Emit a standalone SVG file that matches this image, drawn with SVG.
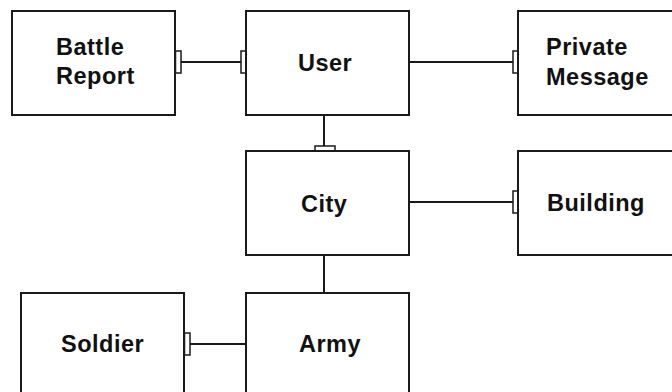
<svg xmlns="http://www.w3.org/2000/svg" width="672" height="392" viewBox="0 0 672 392">
<style>
.box{fill:#fff;stroke:#1a1a1a;stroke-width:2}
.lbl{font-family:"Liberation Sans",Arial,sans-serif;font-weight:bold;font-size:23.5px;letter-spacing:0.5px;fill:#111}
.ln{stroke:#1a1a1a;stroke-width:2;fill:none}
.tk{fill:#fff;stroke:#1a1a1a;stroke-width:1.5}
</style>
<rect width="672" height="392" fill="#fff"/>
<g id="connectors">
<line class="ln" x1="175" y1="62" x2="246" y2="62"/>
<rect class="tk" x="175.5" y="51" width="5.5" height="22"/>
<rect class="tk" x="241" y="51" width="5" height="22"/>
<line class="ln" x1="409" y1="62" x2="518" y2="62"/>
<rect class="tk" x="513" y="51" width="5" height="22"/>
<line class="ln" x1="324" y1="115" x2="324" y2="151"/>
<rect class="tk" x="315" y="146" width="20" height="5"/>
<line class="ln" x1="409" y1="202" x2="518" y2="202"/>
<rect class="tk" x="513" y="191" width="5" height="22"/>
<line class="ln" x1="324" y1="255" x2="324" y2="293"/>
<line class="ln" x1="184" y1="344" x2="246" y2="344"/>
<rect class="tk" x="184.5" y="333" width="5.5" height="22"/>
</g>
<g id="battle-report">
<rect class="box" x="12" y="11" width="163" height="104"/>
<text class="lbl" x="56" y="55">Battle</text>
<text class="lbl" x="56" y="84">Report</text>
</g>
<g id="user">
<rect class="box" x="246" y="11" width="163" height="104"/>
<text class="lbl" x="298" y="71">User</text>
</g>
<g id="private-message">
<rect class="box" x="518" y="11" width="170" height="104"/>
<text class="lbl" x="546" y="55">Private</text>
<text class="lbl" x="546" y="85">Message</text>
</g>
<g id="city">
<rect class="box" x="246" y="151" width="163" height="104"/>
<text class="lbl" x="301" y="212">City</text>
</g>
<g id="building">
<rect class="box" x="518" y="151" width="170" height="104"/>
<text class="lbl" x="547" y="211">Building</text>
</g>
<g id="soldier">
<rect class="box" x="21" y="293" width="163" height="110"/>
<text class="lbl" x="61" y="352">Soldier</text>
</g>
<g id="army">
<rect class="box" x="246" y="293" width="163" height="110"/>
<text class="lbl" x="299" y="352">Army</text>
</g>
</svg>
